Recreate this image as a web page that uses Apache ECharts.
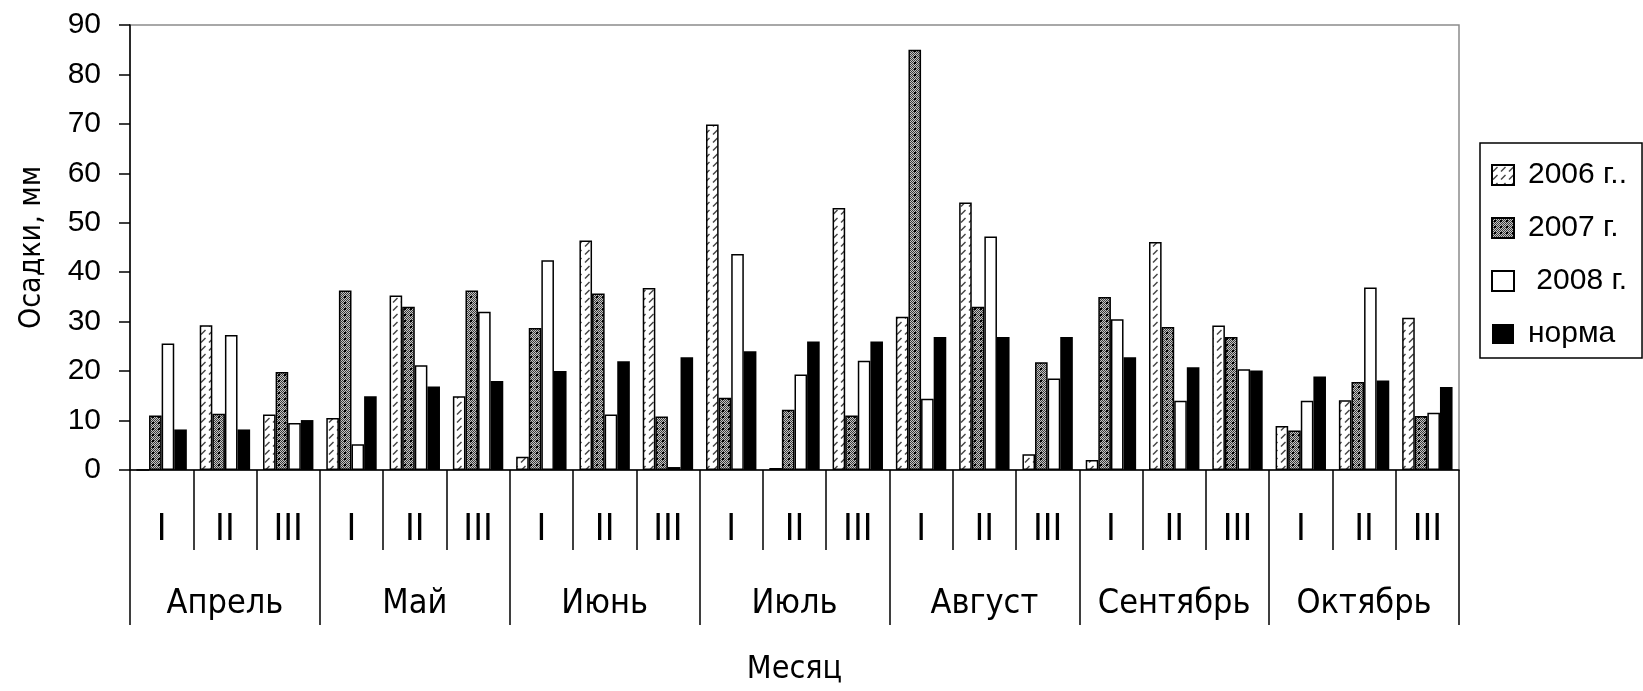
<!DOCTYPE html>
<html>
<head>
<meta charset="utf-8">
<script src="https://cdn.jsdelivr.net/npm/echarts@6/dist/echarts.min.js"></script>
<style>
html,body{margin:0;padding:0;background:#fff;}
#chart{width:1643px;height:691px;}
</style>
</head>
<body>
<div id="chart"></div>
<script>
// ---- data ----
const months = ['Апрель', 'Май', 'Июнь', 'Июль', 'Август', 'Сентябрь', 'Октябрь'];
const decades = ['I', 'II', 'III'];
const seriesNames = ['2006 г..', '2007 г.', ' 2008 г.', 'норма'];
const yTicks = [0, 10, 20, 30, 40, 50, 60, 70, 80, 90];
const s2006 = [0, 29.3, 11.2, 10.5, 35.3, 14.9, 2.7, 46.4, 36.8, 69.9, 0.4, 53.0, 31.0, 54.1, 3.2, 2.0, 46.1, 29.2, 8.9, 14.1, 30.8];
const s2007 = [11.0, 11.4, 19.8, 36.3, 33.0, 36.3, 28.7, 35.7, 10.8, 14.6, 12.2, 11.0, 85.0, 33.0, 21.8, 35.0, 28.9, 26.9, 8.0, 17.8, 10.9];
const s2008 = [25.6, 27.3, 9.5, 5.2, 21.2, 32.0, 42.4, 11.2, 0.6, 43.7, 19.3, 22.1, 14.4, 47.2, 18.5, 30.5, 14.0, 20.4, 14.0, 36.9, 11.6];
const sNorm = [8.2, 8.2, 10.1, 14.9, 16.9, 18.0, 20.0, 22.0, 22.8, 24.0, 26.0, 26.0, 26.9, 26.9, 26.9, 22.8, 20.8, 20.1, 18.9, 18.1, 16.8];

// ---- derived ----
const decadeCats = [];
months.forEach(m => decades.forEach(d => decadeCats.push(d)));

// patterns
function hatchPattern() {
  const c = document.createElement('canvas');
  c.width = 8; c.height = 8;
  const g = c.getContext('2d');
  g.fillStyle = '#fff'; g.fillRect(0, 0, 8, 8);
  g.strokeStyle = '#444'; g.lineWidth = 1.4;
  g.beginPath(); g.moveTo(1, 6.5); g.lineTo(5.5, 2); g.stroke();
  return c;
}
function dotPattern() {
  const c = document.createElement('canvas');
  c.width = 6; c.height = 6;
  const g = c.getContext('2d');
  for (let y = 0; y < 6; y++) for (let x = 0; x < 6; x++) {
    g.fillStyle = ((x + y) % 2 === 0) ? '#3a3a3a' : '#c4c4c4';
    g.fillRect(x, y, 1, 1);
  }
  g.fillStyle = '#000';
  g.fillRect(2, 2, 2, 2);
  return c;
}

const narrow = '"DejaVu Sans Condensed", "Liberation Sans Narrow", sans-serif';
const regular = '"Liberation Sans", Arial, sans-serif';

const chart = echarts.init(document.getElementById('chart'), null, {renderer: 'canvas'});
const barBase = {type: 'bar', barWidth: 12.6, barGap: '0%', xAxisIndex: 0, yAxisIndex: 0};

chart.setOption({
  animation: false,
  backgroundColor: '#fff',
  grid: {left: 130, right: 184, top: 25, bottom: 218, show: true, borderColor: '#8c8c8c', borderWidth: 1.5, containLabel: false},
  legend: {
    orient: 'vertical', left: 1480, top: 143,
    data: seriesNames,
    icon: 'rect', itemWidth: 22, itemHeight: 20, itemGap: 23,
    padding: [17, 15, 9, 11],
    borderColor: '#000', borderWidth: 1.5,
    textStyle: {fontFamily: regular, fontSize: 30, color: '#000', padding: [0, 0, 0, 9]}
  },
  xAxis: [
    {
      type: 'category', data: decadeCats, position: 'bottom',
      axisLine: {show: true, lineStyle: {color: '#000', width: 1.5}},
      axisTick: {show: true, interval: 0, length: 80, lineStyle: {color: '#000', width: 1.5}},
      axisLabel: {interval: 0, margin: 42, fontFamily: narrow, fontSize: 37, color: '#000'},
      splitLine: {show: false}
    },
    {
      type: 'category', data: months, position: 'bottom',
      axisLine: {show: false},
      axisTick: {show: true, interval: 0, length: 155, lineStyle: {color: '#000', width: 1.5}},
      axisLabel: {interval: 0, margin: 117, fontFamily: narrow, fontSize: 34, color: '#000'},
      name: 'Месяц', nameLocation: 'middle', nameGap: 184,
      nameTextStyle: {fontFamily: narrow, fontSize: 32, color: '#000'},
      splitLine: {show: false}
    }
  ],
  yAxis: {
    type: 'value', min: 0, max: 90, interval: 10,
    axisLine: {show: true, lineStyle: {color: '#000', width: 1.5}},
    axisTick: {show: true, length: 11, lineStyle: {color: '#000', width: 1.5}},
    axisLabel: {margin: 29, fontFamily: regular, fontSize: 30, color: '#000',
      formatter: v => yTicks.includes(v) ? String(v) : ''},
    splitLine: {show: false},
    name: 'Осадки, мм', nameLocation: 'middle', nameGap: 83, nameRotate: 90,
    nameTextStyle: {fontFamily: narrow, fontSize: 30, color: '#000'}
  },
  series: [
    Object.assign({}, barBase, {name: seriesNames[0], data: s2006,
      itemStyle: {color: {image: hatchPattern(), repeat: 'repeat'}, borderColor: '#000', borderWidth: 1.5}}),
    Object.assign({}, barBase, {name: seriesNames[1], data: s2007,
      itemStyle: {color: {image: dotPattern(), repeat: 'repeat'}, borderColor: '#000', borderWidth: 1.5}}),
    Object.assign({}, barBase, {name: seriesNames[2], data: s2008,
      itemStyle: {color: '#fff', borderColor: '#000', borderWidth: 1.5}}),
    Object.assign({}, barBase, {name: seriesNames[3], data: sNorm,
      itemStyle: {color: '#000', borderColor: '#000', borderWidth: 0}})
  ]
});
</script>
</body>
</html>
